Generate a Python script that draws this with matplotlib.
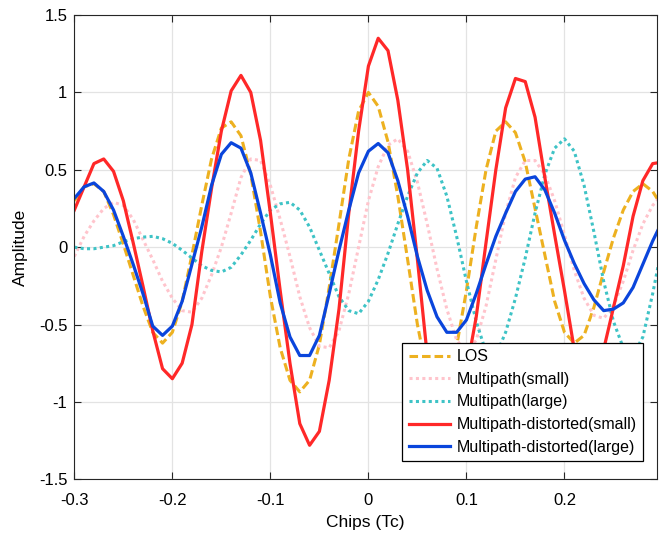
import matplotlib.pyplot as plt

# 데이터 (Chips 단위, 0.01 간격)
chips = [-0.30, -0.29, -0.28, -0.27, -0.26, -0.25, -0.24, -0.23, -0.22, -0.21,
         -0.20, -0.19, -0.18, -0.17, -0.16, -0.15, -0.14, -0.13, -0.12, -0.11,
         -0.10, -0.09, -0.08, -0.07, -0.06, -0.05, -0.04, -0.03, -0.02, -0.01,
         0.00, 0.01, 0.02, 0.03, 0.04, 0.05, 0.06, 0.07, 0.08, 0.09,
         0.10, 0.11, 0.12, 0.13, 0.14, 0.15, 0.16, 0.17, 0.18, 0.19,
         0.20, 0.21, 0.22, 0.23, 0.24, 0.25, 0.26, 0.27, 0.28, 0.29, 0.30]

los = [0.30, 0.39, 0.41, 0.36, 0.21, 0.02, -0.18, -0.38, -0.55, -0.62,
       -0.55, -0.35, -0.05, 0.27, 0.57, 0.77, 0.81, 0.72, 0.47, 0.10,
       -0.32, -0.65, -0.86, -0.935, -0.86, -0.63, -0.26, 0.15, 0.57, 0.88,
       1.00, 0.91, 0.68, 0.33, -0.08, -0.50, -0.82, -0.95, -0.88, -0.64,
       -0.28, 0.13, 0.50, 0.75, 0.81, 0.74, 0.55, 0.25, -0.05, -0.35,
       -0.55, -0.62, -0.57, -0.39, -0.16, 0.06, 0.24, 0.36, 0.41, 0.36, 0.26]

mp_small = [-0.06, 0.07, 0.17, 0.25, 0.29, 0.27, 0.18, 0.05, -0.08, -0.22,
            -0.33, -0.41, -0.42, -0.33, -0.18, 0.00, 0.22, 0.45, 0.57, 0.56,
            0.40, 0.18, -0.06, -0.32, -0.52, -0.64, -0.65, -0.54, -0.30, 0.00,
            0.30, 0.52, 0.66, 0.70, 0.62, 0.42, 0.15, -0.14, -0.40, -0.60,
            -0.68, -0.60, -0.38, -0.08, 0.22, 0.45, 0.56, 0.56, 0.47, 0.30,
            0.08, -0.15, -0.33, -0.44, -0.46, -0.38, -0.22, -0.02, 0.15, 0.27, 0.34]

mp_large = [0.00, -0.01, -0.01, 0.00, 0.01, 0.035, 0.055, 0.065, 0.07, 0.055,
            0.025, -0.02, -0.07, -0.12, -0.15, -0.16, -0.13, -0.05, 0.045, 0.15,
            0.24, 0.28, 0.29, 0.24, 0.13, -0.02, -0.17, -0.32, -0.41, -0.43,
            -0.35, -0.21, -0.04, 0.15, 0.33, 0.48, 0.56, 0.51, 0.33, 0.07,
            -0.22, -0.48, -0.68, -0.70, -0.55, -0.33, -0.07, 0.22, 0.47, 0.64,
            0.70, 0.62, 0.40, 0.10, -0.22, -0.48, -0.65, -0.70, -0.58, -0.30, 0.02]

dist_small = [0.24, 0.39, 0.54, 0.57, 0.49, 0.30, 0.03, -0.25, -0.54, -0.785,
              -0.85, -0.75, -0.50, -0.03, 0.38, 0.75, 1.01, 1.11, 1.00, 0.69,
              0.22, -0.28, -0.75, -1.14, -1.28, -1.19, -0.86, -0.40, 0.22, 0.75,
              1.17, 1.35, 1.27, 0.95, 0.50, -0.08, -0.70, -1.15, -1.30, -1.15,
              -0.80, -0.45, 0.03, 0.50, 0.90, 1.09, 1.07, 0.84, 0.45, 0.08,
              -0.28, -0.66, -0.98, -0.95, -0.66, -0.39, -0.12, 0.20, 0.43, 0.54, 0.55]

dist_large = [0.315, 0.39, 0.415, 0.36, 0.24, 0.07, -0.11, -0.30, -0.51, -0.57,
              -0.51, -0.35, -0.11, 0.13, 0.40, 0.60, 0.675, 0.64, 0.48, 0.22,
              -0.05, -0.36, -0.58, -0.70, -0.70, -0.57, -0.30, -0.02, 0.24, 0.48,
              0.62, 0.67, 0.61, 0.43, 0.20, -0.06, -0.28, -0.45, -0.55, -0.55,
              -0.47, -0.30, -0.11, 0.07, 0.22, 0.36, 0.44, 0.455, 0.37, 0.22,
              0.045, -0.105, -0.235, -0.34, -0.41, -0.40, -0.36, -0.26, -0.11, 0.04, 0.17]

plt.rcParams['font.family'] = ['Liberation Sans', 'DejaVu Sans']

fig = plt.figure(figsize=(6.6, 5.37), dpi=100)
ax = fig.add_axes([0.1126, 0.1074, 0.883, 0.8646])

ax.plot(chips, los, color='#EDB120', lw=2.2, dashes=(2.8, 1.3), label='LOS')
ax.plot(chips, mp_small, color='#FFC4CC', lw=2.2, dashes=(1, 1.1), label='Multipath(small)')
ax.plot(chips, mp_large, color='#3EC3C6', lw=2.2, dashes=(1, 1.1), label='Multipath(large)')
ax.plot(chips, dist_small, color='#FF2828', lw=2.3, label='Multipath-distorted(small)')
ax.plot(chips, dist_large, color='#0A45DC', lw=2.3, label='Multipath-distorted(large)')

ax.set_xlim(-0.3, 0.2945)
ax.set_ylim(-1.5, 1.5)
ax.set_xticks([-0.3, -0.2, -0.1, 0, 0.1, 0.2])
ax.set_xticklabels(['-0.3', '-0.2', '-0.1', '0', '0.1', '0.2'])
ax.set_yticks([-1.5, -1, -0.5, 0, 0.5, 1, 1.5])
ax.set_yticklabels(['-1.5', '-1', '-0.5', '0', '0.5', '1', '1.5'])
ax.tick_params(direction='in', length=5, width=0.8, top=True, right=True,
               labelsize=12, colors='#262626', labelcolor='black', pad=5)
ax.tick_params(axis='x', pad=10)
ax.grid(True, color='#E3E3E3', lw=0.9)
ax.set_axisbelow(True)
for s in ax.spines.values():
    s.set_color('#262626')
    s.set_linewidth(0.8)

ax.set_xlabel('Chips (Tc)', fontsize=12.5, labelpad=5)
ax.set_ylabel('Amplitude', fontsize=12.5, labelpad=8)

leg = ax.legend(loc='lower right', bbox_to_anchor=(0.976, 0.039), borderaxespad=0,
                fontsize=11.5, handlelength=2.6, labelspacing=0.48, handletextpad=0.4,
                borderpad=0.4, fancybox=False, framealpha=1, edgecolor='black')
leg.get_frame().set_linewidth(0.9)

plt.savefig('out.png', dpi=100)
